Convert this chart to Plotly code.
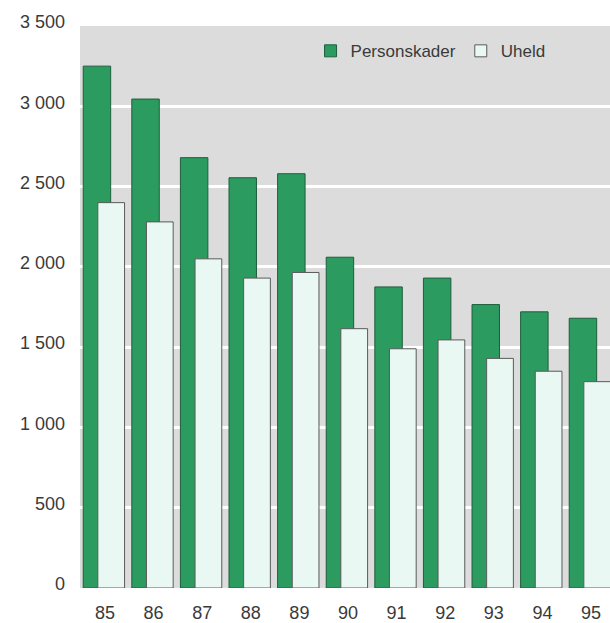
import plotly.graph_objects as go

years = [85, 86, 87, 88, 89, 90, 91, 92, 93, 94, 95]
year_labels = ["85", "86", "87", "88", "89", "90", "91", "92", "93", "94", "95"]
personskader = [3250, 3045, 2680, 2555, 2580, 2060, 1875, 1930, 1765, 1720, 1680]
uheld = [2400, 2280, 2050, 1930, 1965, 1615, 1490, 1545, 1430, 1350, 1285]
y_ticks = [0, 500, 1000, 1500, 2000, 2500, 3000, 3500]
y_tick_labels = ["0", "500", "1 000", "1 500", "2 000", "2 500", "3 000", "3 500"]

GREEN = "#2c9b60"
GREEN_EDGE = "#1d5e3c"
PALE = "#e9f8f3"
PALE_EDGE = "#5a5a5a"
TEXT = "#3a3a3a"

fig = go.Figure()
fig.add_trace(go.Bar(
    x=years, y=personskader, name="Personskader",
    width=0.565, offset=-0.448,
    marker=dict(color=GREEN, line=dict(color=GREEN_EDGE, width=1)),
))
fig.add_trace(go.Bar(
    x=years, y=uheld, name="Uheld",
    width=0.55, offset=-0.147,
    marker=dict(color=PALE, line=dict(color=PALE_EDGE, width=1)),
))

fig.update_layout(
    width=610, height=623,
    margin=dict(l=80, r=0, t=26, b=35),
    barmode="overlay",
    paper_bgcolor="white",
    plot_bgcolor="#dcdcdc",
    font=dict(family="Liberation Sans, Arial, sans-serif", size=18, color=TEXT),
    legend=dict(
        orientation="h",
        x=0.435, xanchor="left",
        y=0.955, yanchor="middle",
        bgcolor="rgba(0,0,0,0)",
        font=dict(size=17, color=TEXT),
        itemwidth=30,
        traceorder="normal",
    ),
    showlegend=True,
)
fig.update_xaxes(
    range=[84.486, 95.391],
    tickmode="array", tickvals=years, ticktext=year_labels,
    showgrid=False, zeroline=False, showline=False,
    ticks="", ticklabelstandoff=12,
)
fig.update_yaxes(
    range=[0, 3500],
    tickmode="array", tickvals=y_ticks, ticktext=y_tick_labels,
    showgrid=True, gridcolor="white", gridwidth=3,
    zeroline=False, showline=False, ticks="",
    ticklabelstandoff=14, ticklabelshift=-4,
)

fig.write_html(
    "out.html",
    config={"displayModeBar": False},
    post_script="document.body.style.margin='0px';document.body.style.overflow='hidden';",
)
